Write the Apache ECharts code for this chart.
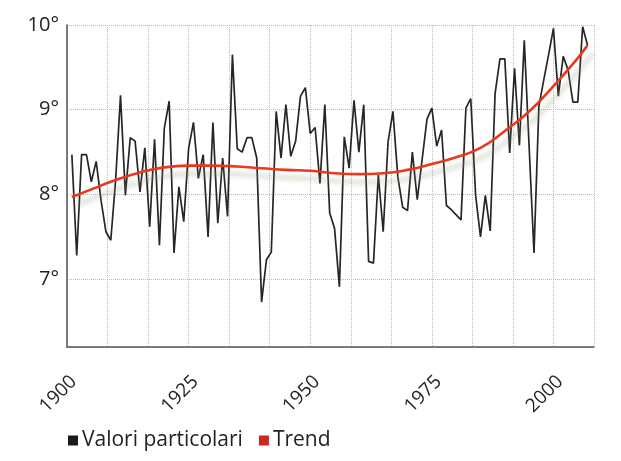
<!DOCTYPE html>
<html>
<head>
<meta charset="utf-8">
<title>Temperature 1901-2007</title>
<script src="https://cdn.jsdelivr.net/npm/echarts@6.0.0/dist/echarts.min.js"></script>
<style>
  html, body { margin: 0; padding: 0; background: #fff; }
  #chart { width: 621px; height: 461px; }
</style>
</head>
<body>
<div id="chart"></div>
<script>
// annual values, one per year starting at firstYear
const firstYear = 1901
const annualValues = [
  8.47, 7.28, 8.47, 8.47, 8.15, 8.39, 7.93, 7.56, 7.46, 8.17,
  9.17, 7.99, 8.67, 8.63, 8.03, 8.55, 7.62, 8.65, 7.40, 8.78,
  9.10, 7.31, 8.09, 7.68, 8.54, 8.85, 8.19, 8.47, 7.50, 8.85,
  7.66, 8.43, 7.74, 9.65, 8.54, 8.50, 8.67, 8.67, 8.43, 6.73,
  7.23, 7.32, 8.98, 8.43, 9.06, 8.45, 8.63, 9.16, 9.26, 8.72,
  8.79, 8.13, 9.06, 7.78, 7.60, 6.91, 8.68, 8.31, 9.11, 8.50,
  9.06, 7.21, 7.19, 8.23, 7.56, 8.62, 8.98, 8.21, 7.85, 7.81,
  8.50, 7.94, 8.41, 8.89, 9.02, 8.57, 8.76, 7.87, 7.82, 7.76,
  7.70, 9.02, 9.13, 7.99, 7.50, 7.99, 7.57, 9.19, 9.60, 9.60,
  8.49, 9.49, 8.58, 9.82, 8.56, 7.31, 9.04, 9.35, 9.65, 9.96,
  9.16, 9.63, 9.47, 9.09, 9.09, 9.98, 9.76
]

const trendYears = [1901, 1905, 1910, 1915, 1920, 1925, 1930, 1935, 1940, 1945, 1950, 1955,
  1960, 1965, 1970, 1975, 1980, 1985, 1990, 1995, 2000, 2005, 2007]
const trendValues = [7.97, 8.06, 8.17, 8.26, 8.32, 8.34, 8.34, 8.33, 8.31, 8.29, 8.28, 8.25,
  8.24, 8.25, 8.29, 8.36, 8.44, 8.55, 8.75, 8.98, 9.28, 9.61, 9.76]

const xLabelYears = [1900, 1925, 1950, 1975, 2000]
const yLabelValues = [7, 8, 9, 10]

const annualData = annualValues.map((v, i) => [firstYear + i, v])
const trendData = trendYears.map((y, i) => [y, trendValues[i]])

const chart = echarts.init(document.getElementById('chart'))

chart.setOption({
  animation: false,
  textStyle: { fontFamily: 'Open Sans, Noto Sans, sans-serif' },
  grid: { left: 67, right: 27, top: 25, bottom: 114 },
  legend: {
    left: 63,
    top: 425,
    icon: 'rect',
    itemWidth: 10,
    itemHeight: 10,
    itemGap: 16,
    textStyle: { fontSize: 21, color: '#222', padding: [0, 0, 0, -1] },
    data: [
      { name: 'Valori particolari', itemStyle: { color: '#1a1a1a' } },
      { name: 'Trend', itemStyle: { color: '#c8281e' } }
    ]
  },
  xAxis: {
    type: 'value',
    min: 1900,
    max: 1900 + 13 * 25 / 3,
    interval: 25 / 3,
    axisLine: { show: true, lineStyle: { color: '#555', width: 1.5 } },
    axisTick: { show: false },
    splitLine: { show: true, lineStyle: { color: '#bbb', type: 'dotted', width: 1 } },
    axisLabel: {
      rotate: 45,
      margin: 25,
      verticalAlign: 'top',
      fontSize: 19,
      color: '#222',
      showMinLabel: true,
      formatter: v => {
        const r = Math.round(v)
        return Math.abs(v - r) < 0.01 && xLabelYears.includes(r) ? String(r) : ''
      }
    }
  },
  yAxis: {
    type: 'value',
    min: 6.2,
    max: 10,
    minInterval: 1,
    maxInterval: 1,
    axisLine: { show: true, lineStyle: { color: '#555', width: 1.5 } },
    axisTick: { show: false },
    splitLine: { show: true, lineStyle: { color: '#bbb', type: 'dotted', width: 1 } },
    axisLabel: {
      margin: 8,
      fontSize: 20,
      color: '#222',
      formatter: v => yLabelValues.includes(v) ? v + '°' : ''
    }
  },
  series: [
    {
      name: 'Valori particolari',
      type: 'line',
      data: annualData,
      symbol: 'none',
      lineStyle: { color: '#262626', width: 1.7 },
      itemStyle: { color: '#1a1a1a' },
      z: 2
    },
    {
      name: 'Trend',
      type: 'line',
      data: trendData,
      smooth: true,
      symbol: 'none',
      lineStyle: {
        color: '#e8391d',
        width: 2.6,
        shadowColor: 'rgba(150, 160, 130, 0.55)',
        shadowBlur: 5,
        shadowOffsetX: 5,
        shadowOffsetY: 8
      },
      itemStyle: { color: '#c8281e' },
      z: 3
    }
  ]
})
</script>
</body>
</html>
